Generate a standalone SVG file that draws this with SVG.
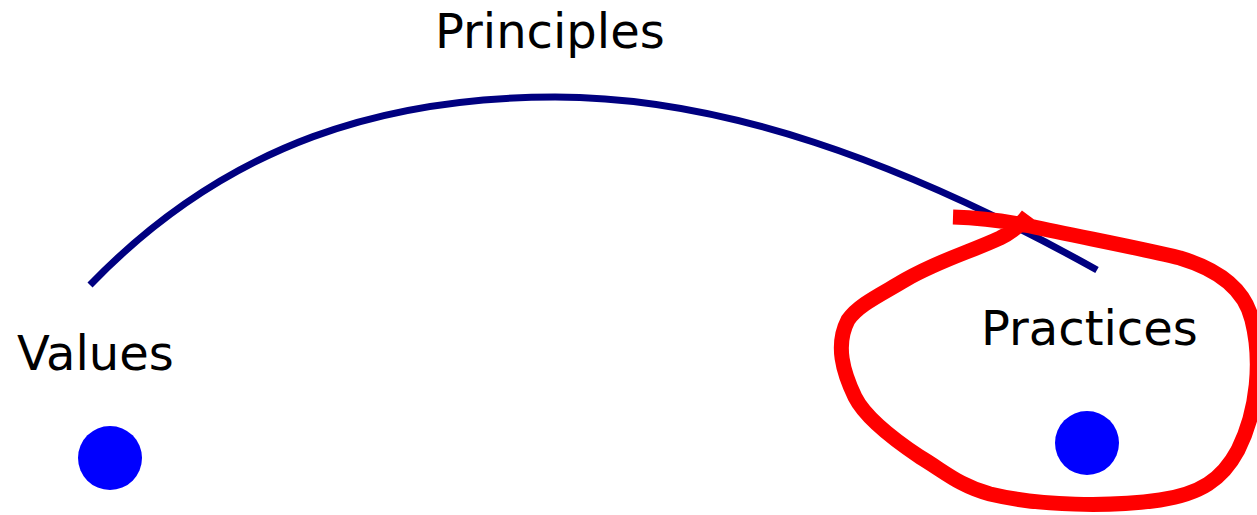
<svg xmlns="http://www.w3.org/2000/svg" width="1257" height="515" viewBox="0 0 1257 515">
<style>
.lbl{font-family:"DejaVu Sans","Verdana",sans-serif;font-size:48px;fill:#000}
.dot{fill:#0000ff}
</style>
<rect width="1257" height="515" fill="#fff"/>
<g id="connectors">
<path id="principles-arc" d="M90,285 C230,140 390,97 555,97 C720,97 900,160 1097,270" fill="none" stroke="#000080" stroke-width="7"/>
</g>
<g id="principles"><text class="lbl" x="435" y="48">Principles</text></g>
<g id="values">
<text class="lbl" x="17" y="370">Values</text>
<circle class="dot" cx="110" cy="458" r="32"/>
</g>
<g id="practices">
<text class="lbl" x="981" y="345">Practices</text>
<circle class="dot" cx="1087" cy="443" r="32"/>
</g>
<g id="highlight">
<path d="M953,217 C985,218 1005,221 1030,226 C1080,237 1140,248 1180,258 C1220,270 1245,290 1252,320 C1262,360 1258,410 1238,450 C1222,480 1200,494 1160,500 C1110,507 1040,506 990,494 C960,486 945,472 920,457 C890,437 865,417 855,397 C843,372 835,345 848,320 C858,305 880,295 905,280 C940,260 970,252 1000,238 C1012,232 1020,226 1028,215" fill="none" stroke="#ff0000" stroke-width="15" stroke-linejoin="round"/>
</g>
</svg>
